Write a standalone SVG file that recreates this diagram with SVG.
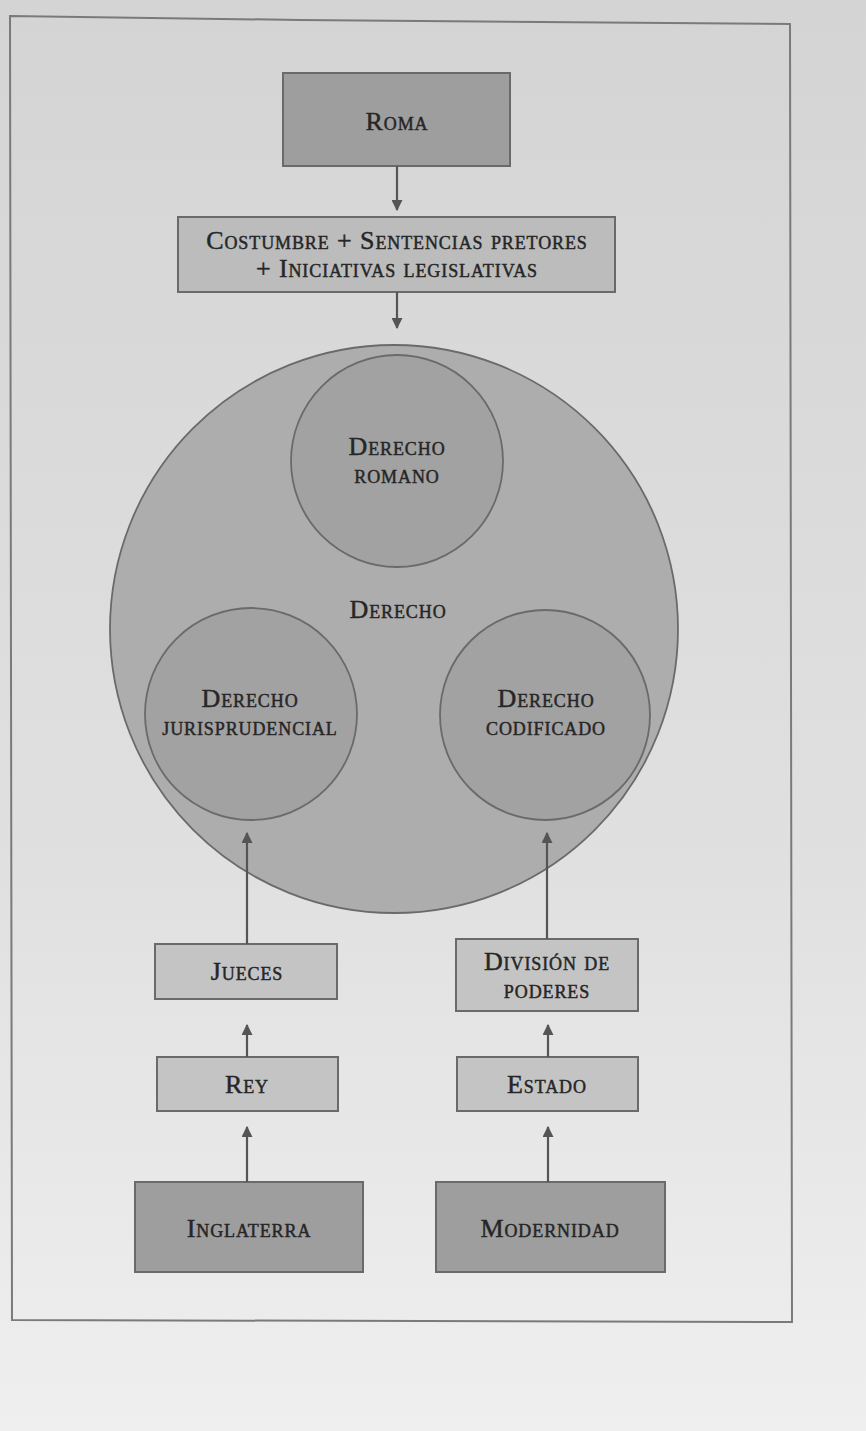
<svg xmlns="http://www.w3.org/2000/svg" width="866" height="1431" viewBox="0 0 866 1431">
<defs>
<linearGradient id="bg" x1="0" y1="0" x2="0" y2="1">
<stop offset="0" stop-color="#d4d4d4"/>
<stop offset="0.6" stop-color="#e0e0e0"/>
<stop offset="1" stop-color="#efefef"/>
</linearGradient>
<marker id="ah" viewBox="0 0 10 10" refX="9" refY="5" markerWidth="5" markerHeight="5" orient="auto" markerUnits="strokeWidth">
<path d="M0,0 L10,5 L0,10 z" fill="#555"/>
</marker>
<style>
text{font-family:"Liberation Serif","DejaVu Serif",serif;font-variant:small-caps;font-size:26px;letter-spacing:0.9px;fill:#262626;stroke:#262626;stroke-width:0.45;text-anchor:middle}
.box{stroke:#6a6a6a;stroke-width:2}
.dark{fill:#9e9e9e}
.mid{fill:#bcbcbc}
.light{fill:#c4c4c4}
.circ{stroke:#6a6a6a;stroke-width:1.8}
.conn line{stroke:#555;stroke-width:2.2;marker-end:url(#ah)}
</style>
</defs>
<rect width="866" height="1431" fill="url(#bg)"/>
<path d="M10,16 L300,20 L790,24 L792,1322 L12,1320 Z" fill="none" stroke="#7a7a7a" stroke-width="2"/>

<g id="roma"><rect class="box dark" x="283" y="73" width="227" height="93"/><text x="397" y="130">Roma</text></g>
<g id="costumbre"><rect class="box mid" x="178" y="217" width="437" height="75"/><text x="397" y="249">Costumbre + Sentencias pretores</text><text x="397" y="277">+ Iniciativas legislativas</text></g>
<g id="derecho"><circle class="circ" cx="394" cy="629" r="284" fill="#adadad"/><text x="398" y="618">Derecho</text></g>
<g id="romano"><circle class="circ" cx="397" cy="461" r="106" fill="#a2a2a2"/><text x="397" y="455">Derecho</text><text x="397" y="483">romano</text></g>
<g id="jurisprudencial"><circle class="circ" cx="251" cy="714" r="106" fill="#a2a2a2"/><text x="250" y="707">Derecho</text><text x="250" y="735">jurisprudencial</text></g>
<g id="codificado"><circle class="circ" cx="545" cy="715" r="105" fill="#a2a2a2"/><text x="546" y="707">Derecho</text><text x="546" y="735">codificado</text></g>
<g id="jueces"><rect class="box light" x="155" y="944" width="182" height="55"/><text x="247" y="980">Jueces</text></g>
<g id="division"><rect class="box light" x="456" y="939" width="182" height="72"/><text x="547" y="970">División de</text><text x="547" y="998">poderes</text></g>
<g id="rey"><rect class="box light" x="157" y="1057" width="181" height="54"/><text x="247" y="1093">Rey</text></g>
<g id="estado"><rect class="box light" x="457" y="1057" width="181" height="54"/><text x="547" y="1093">Estado</text></g>
<g id="inglaterra"><rect class="box dark" x="135" y="1182" width="228" height="90"/><text x="249" y="1237">Inglaterra</text></g>
<g id="modernidad"><rect class="box dark" x="436" y="1182" width="229" height="90"/><text x="550" y="1237">Modernidad</text></g>

<g class="conn" id="connectors">
<line x1="397" y1="166" x2="397" y2="210"/>
<line x1="397" y1="292" x2="397" y2="328"/>
<line x1="247" y1="944" x2="247" y2="833"/>
<line x1="547" y1="939" x2="547" y2="833"/>
<line x1="247" y1="1057" x2="247" y2="1025"/>
<line x1="548" y1="1057" x2="548" y2="1025"/>
<line x1="247" y1="1182" x2="247" y2="1127"/>
<line x1="548" y1="1182" x2="548" y2="1127"/>
</g>
</svg>
